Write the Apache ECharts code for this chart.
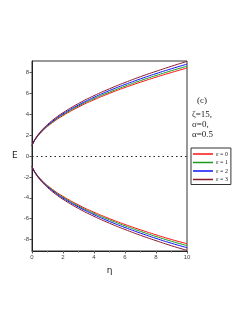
<!DOCTYPE html>
<html><head><meta charset="utf-8">
<script src="https://cdn.jsdelivr.net/npm/echarts@6/dist/echarts.min.js"></script>
<style>html,body{margin:0;padding:0;background:#fff}#c{width:249px;height:323px}</style>
</head><body><div id="c"></div>
<script>
var eta = [0, 0.1, 0.25, 0.5, 0.75, 1, 1.5, 2, 3, 4, 5, 6, 7, 8, 9, 10];
var names = ['ε = 0', 'ε = 1', 'ε = 2', 'ε = 3'];
var colors = ['#ff1010', '#1a9a1a', '#1010ff', '#8b1a2b'];
var upEps0 = [1, 1.30, 1.66, 2.12, 2.50, 2.83, 3.39, 3.87, 4.69, 5.39, 6.00, 6.56, 7.07, 7.55, 8.00, 8.43];
var upEps1 = [1, 1.32, 1.68, 2.16, 2.55, 2.88, 3.46, 3.95, 4.79, 5.50, 6.12, 6.69, 7.22, 7.71, 8.17, 8.60];
var upEps2 = [1, 1.33, 1.71, 2.20, 2.60, 2.94, 3.53, 4.04, 4.89, 5.62, 6.27, 6.85, 7.39, 7.89, 8.36, 8.80];
var upEps3 = [1, 1.35, 1.74, 2.25, 2.66, 3.02, 3.63, 4.15, 5.03, 5.78, 6.44, 7.04, 7.60, 8.11, 8.60, 9.06];
var loEps0 = [-1, -1.30, -1.66, -2.12, -2.50, -2.83, -3.39, -3.87, -4.69, -5.39, -6.00, -6.56, -7.07, -7.55, -8.00, -8.40];
var loEps1 = [-1, -1.32, -1.68, -2.16, -2.55, -2.88, -3.46, -3.95, -4.79, -5.50, -6.12, -6.69, -7.22, -7.71, -8.17, -8.58];
var loEps2 = [-1, -1.33, -1.71, -2.20, -2.60, -2.94, -3.53, -4.04, -4.89, -5.62, -6.27, -6.85, -7.39, -7.89, -8.36, -8.78];
var loEps3 = [-1, -1.35, -1.74, -2.25, -2.66, -3.02, -3.63, -4.15, -5.03, -5.78, -6.44, -7.04, -7.60, -8.11, -8.60, -9.04];
var yTicks = [-8, -6, -4, -2, 0, 2, 4, 6, 8];
var paramLines = ['ζ=15,', 'σ=0,', 'α=0.5'];
var panelLabel = '(c)';

var upper = [upEps0, upEps1, upEps2, upEps3];
var lower = [loEps0, loEps1, loEps2, loEps3];
function pairs(arr){ return eta.map(function(x,i){ return [x, arr[i]]; }); }

var series = [];
for (var i = 0; i < 4; i++) {
  series.push({ name: names[i], type: 'line', data: pairs(upper[i]), smooth: true, symbol: 'none',
    lineStyle: { color: colors[i], width: 1 }, itemStyle: { color: colors[i] }, z: 3 + i });
  series.push({ name: names[i], type: 'line', data: pairs(lower[i]), smooth: true, symbol: 'none',
    lineStyle: { color: colors[i], width: 1 }, itemStyle: { color: colors[i] }, z: 3 + i });
}
series[0].markLine = { silent: true, symbol: 'none', label: { show: false },
  lineStyle: { type: [1.5, 3], color: '#222', width: 1 }, data: [{ yAxis: 0 }] };

var chart = echarts.init(document.getElementById('c'), null, { renderer: 'canvas' });
chart.setOption({
  animation: false,
  backgroundColor: '#fff',
  grid: { left: 32, right: 62, top: 61, bottom: 72, show: true, borderColor: '#333', borderWidth: 1 },
  xAxis: {
    type: 'value', min: 0, max: 10, interval: 2,
    name: 'η', nameLocation: 'middle', nameGap: 15,
    nameTextStyle: { fontSize: 9, color: '#222', fontFamily: 'DejaVu Sans' },
    axisLine: { onZero: false, lineStyle: { color: '#222' } },
    axisTick: { show: true, length: 2.5, inside: false, lineStyle: { color: '#555' } },
    minorTick: { show: true, splitNumber: 2, length: 1.5, lineStyle: { color: '#777' } },
    axisLabel: { fontSize: 6, color: '#444', margin: 3 },
    splitLine: { show: false }
  },
  yAxis: {
    type: 'value', min: -9.1, max: 9.1,
    name: 'E', nameLocation: 'middle', nameGap: 14, nameRotate: 0,
    nameTextStyle: { fontSize: 9, color: '#222', fontFamily: 'DejaVu Sans' },
    axisLine: { onZero: false, lineStyle: { color: '#222' } },
    axisTick: { show: true, length: 2.5, customValues: yTicks, lineStyle: { color: '#555' } },
    axisLabel: { fontSize: 6, color: '#444', margin: 3, customValues: yTicks },
    splitLine: { show: false }
  },
  legend: {
    data: names, orient: 'vertical', left: 191, top: 148,
    padding: [3, 3, 2, 2], itemGap: 2.5, itemWidth: 20, itemHeight: 1.5,
    icon: 'rect', borderColor: '#333', borderWidth: 1, backgroundColor: '#fff',
    textStyle: { fontSize: 6, color: '#222', fontFamily: 'Liberation Serif', padding: [0, 0, 0, -2] }
  },
  graphic: [
    { type: 'text', left: 197, top: 96, style: { text: panelLabel, fontSize: 9, fill: '#222', fontFamily: 'Liberation Serif' } },
    { type: 'text', left: 192, top: 110, style: { text: paramLines.join('\n'), fontSize: 9, lineHeight: 10, fill: '#222', fontFamily: 'Liberation Serif' } }
  ],
  series: series
});
</script>
</body></html>
